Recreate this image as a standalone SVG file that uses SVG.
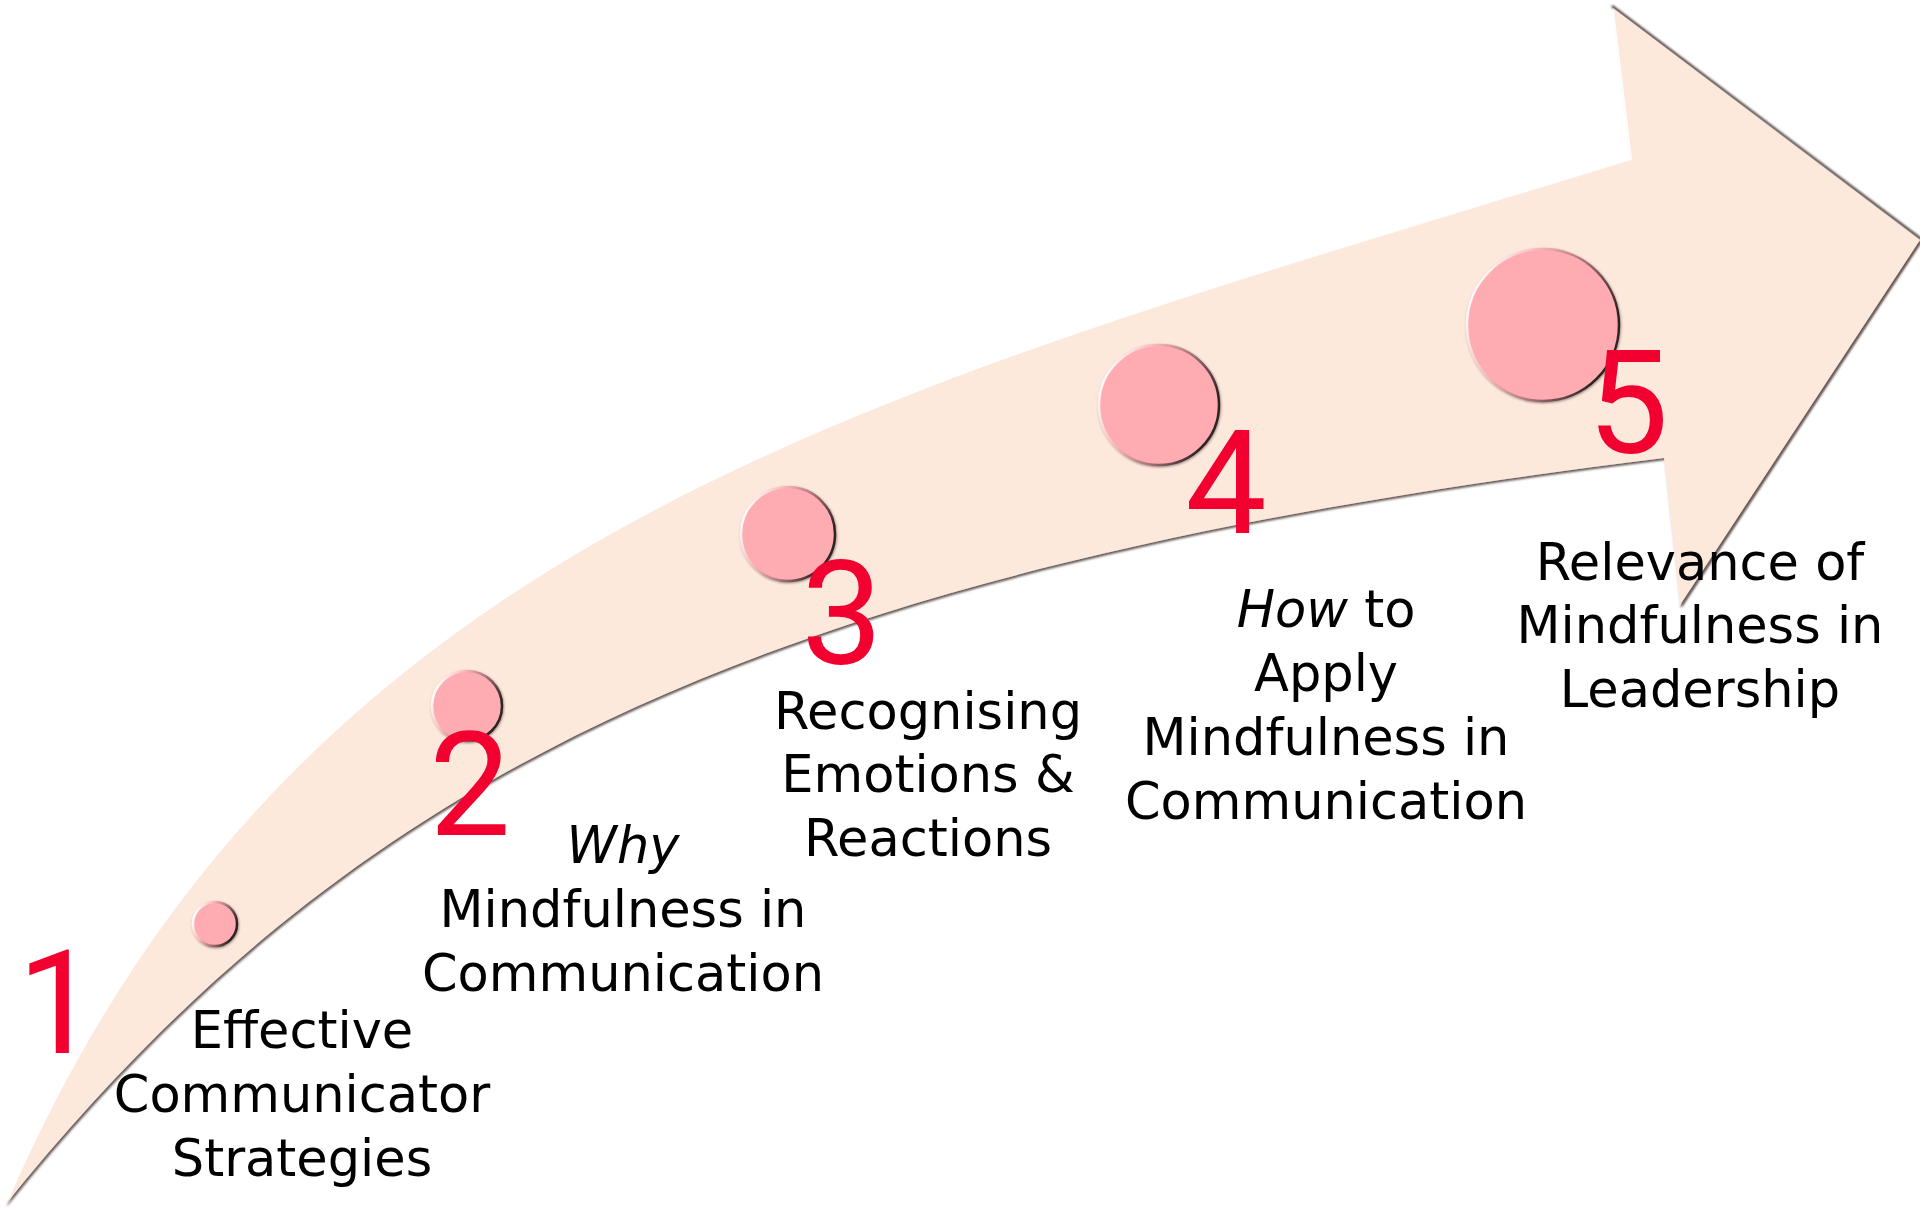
<svg xmlns="http://www.w3.org/2000/svg" width="1920" height="1207" viewBox="0 0 1920 1207">
  <defs>
    <filter id="arrowShadow" x="-5%" y="-5%" width="110%" height="110%">
      <feDropShadow dx="1.5" dy="2" stdDeviation="1.2" flood-color="#4a3a36" flood-opacity="0.85"/>
    </filter>
    <filter id="dotShadow" x="-20%" y="-20%" width="140%" height="140%">
      <feDropShadow dx="0.8" dy="1" stdDeviation="0.8" flood-color="#3a2a2a" flood-opacity="0.5"/>
    </filter>
    <filter id="soft" x="-5%" y="-5%" width="110%" height="110%">
      <feGaussianBlur stdDeviation="0.8"/>
    </filter>
    <linearGradient id="rim" x1="0.05" y1="0.2" x2="0.95" y2="0.55">
      <stop offset="0" stop-color="#ffffff"/>
      <stop offset="0.35" stop-color="#f6b2b6"/>
      <stop offset="0.65" stop-color="#a87478"/>
      <stop offset="1" stop-color="#2e2223"/>
    </linearGradient>
  </defs>
  <style>
    .band { fill: #fde8dc; }
    .hl { fill: none; stroke: #ffffff; stroke-width: 2; stroke-opacity: 0.9; }
    .edge { fill: none; stroke: #3f3330; stroke-width: 2.2; filter: url(#soft); }
    .edge2 { fill: none; stroke: #8a7670; stroke-width: 1.6; filter: url(#soft); }
    .dot { fill: #feabb1; stroke: url(#rim); stroke-width: 2.5; filter: url(#dotShadow); }
    .num { font-family: Roboto, "Liberation Sans", sans-serif; font-weight: 400; font-size: 145px; fill: #f2002f; text-anchor: middle; }
    .lbl { font-family: "DejaVu Sans", "Liberation Sans", sans-serif; font-size: 51px; fill: #000000; text-anchor: middle; }
    .it { font-style: italic; }
  </style>
  <rect x="0" y="0" width="1920" height="1207" fill="#ffffff"/>

  <g id="connectors">
    <path class="edge" d="M1612,6 L1921,239"/>
    <path class="edge2" d="M1921,241 L1681,607"/>
    <path id="arrow" class="band" filter="url(#arrowShadow)" d="M5,1205 C300,525 880,390 1631,159 L1613,8 L1920,240 L1680,605 L1664,458 C764,569 355,771 5,1205 Z"/>
    <path class="hl" d="M8,1199 C300,525 880,390 1631,159 L1613,10"/>
  </g>

  <g id="node1">
    <circle class="dot" cx="215" cy="924" r="22"/>
    <text class="num" x="58" y="1053">1</text>
    <text class="lbl" x="302" y="1048">Effective</text>
    <text class="lbl" x="302" y="1112">Communicator</text>
    <text class="lbl" x="302" y="1176">Strategies</text>
  </g>

  <g id="node2">
    <circle class="dot" cx="467" cy="706" r="35"/>
    <text class="num" x="470" y="835">2</text>
    <text class="lbl it" x="623" y="863">Why</text>
    <text class="lbl" x="623" y="927">Mindfulness in</text>
    <text class="lbl" x="623" y="991">Communication</text>
  </g>

  <g id="node3">
    <circle class="dot" cx="788" cy="534" r="47"/>
    <text class="num" x="842" y="664">3</text>
    <text class="lbl" x="928" y="729">Recognising</text>
    <text class="lbl" x="928" y="792">Emotions &amp;</text>
    <text class="lbl" x="928" y="856">Reactions</text>
  </g>

  <g id="node4">
    <circle class="dot" cx="1159" cy="405" r="60"/>
    <text class="num" x="1226" y="533">4</text>
    <text class="lbl" x="1326" y="627"><tspan class="it">How</tspan> to</text>
    <text class="lbl" x="1326" y="691">Apply</text>
    <text class="lbl" x="1326" y="755">Mindfulness in</text>
    <text class="lbl" x="1326" y="819">Communication</text>
  </g>

  <g id="node5">
    <circle class="dot" cx="1543" cy="325" r="76"/>
    <text class="num" x="1628" y="453">5</text>
    <text class="lbl" x="1700" y="580">Relevance of</text>
    <text class="lbl" x="1700" y="643">Mindfulness in</text>
    <text class="lbl" x="1700" y="707">Leadership</text>
  </g>
</svg>
